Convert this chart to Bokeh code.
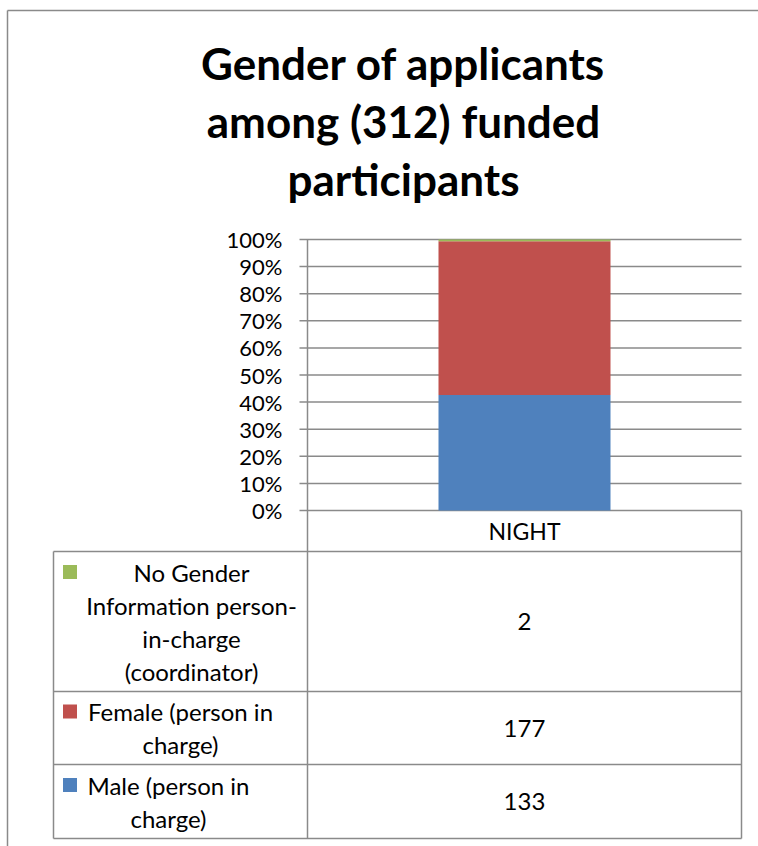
from bokeh.plotting import figure
from bokeh.models import ColumnDataSource, Range1d, LinearScale
from bokeh.core.properties import value
from bokeh.embed import file_html
from bokeh.resources import INLINE

# ---------------- data ----------------
TITLE_LINES = ["Gender of applicants", "among (312) funded", "participants"]
CATEGORIES = ["NIGHT"]
SERIES_KEYS = ["male", "female", "nogender"]
SERIES_NAMES = ["Male (person in\ncharge)",
                "Female (person in\ncharge)",
                "No Gender\nInformation person-\nin-charge\n(coordinator)"]
SERIES_COUNTS = [133, 177, 2]
SERIES_COLORS = ["#4F81BD", "#C0504D", "#9BBB59"]
Y_TICKS = [0.0, 0.1, 0.2, 0.3, 0.4, 0.5, 0.6, 0.7, 0.8, 0.9, 1.0]
Y_TICK_LABELS = ["0%", "10%", "20%", "30%", "40%", "50%", "60%", "70%",
                 "80%", "90%", "100%"]

# ---------------- layout constants (pixels) ----------------
W, H = 758, 846
X_L, X_R = 307, 741        # plot area left / right
Y_0, Y_1 = 510, 239        # pixel rows of 0% and 100%
GRAY = "#8a8a8a"
FONT = "Lato"

n_cat = len(CATEGORIES)
sx = (X_R - X_L) / n_cat
sy = Y_0 - Y_1

total = sum(SERIES_COUNTS)
xpos = [i + 0.5 for i in range(n_cat)]
data = {"x": xpos}
for k, c in zip(SERIES_KEYS, SERIES_COUNTS):
    data[k] = [c / total]
source = ColumnDataSource(data)

p = figure(width=W, height=H, output_backend="svg", toolbar_location=None,
           title=None, x_axis_location=None, y_axis_location=None, min_border=0,
           x_range=Range1d(-X_L / sx, (W - X_L) / sx),
           y_range=Range1d(-(H - Y_0) / sy, 1 + Y_1 / sy))
p.outline_line_color = None
p.background_fill_color = "white"
p.border_fill_color = "white"
p.grid.visible = False
p.extra_x_ranges = {"px": Range1d(0, W)}
p.extra_x_scales = {"px": LinearScale()}
p.extra_y_ranges = {"px": Range1d(H, 0)}
p.extra_y_scales = {"px": LinearScale()}

PX = dict(x_range_name="px", y_range_name="px")


def seg(x0, y0, x1, y1, **kw):
    p.segment(x0=x0, y0=y0, x1=x1, y1=y1, line_color=GRAY, line_width=1.5, **kw)


def txt(x, y, texts, size, align="center", baseline="middle", style="normal", **kw):
    p.text(x=x, y=y, text=texts, text_font=value(FONT), text_font_size=value(size),
           text_font_style=style, text_align=align, text_baseline=baseline,
           text_color="black", **kw)


# outer chart border (left + top)
seg([7, 7], [10, 10], [7, W], [H, 10], **PX)

# gridlines with tick marks (x in pixels, y in value units)
seg([X_L - 8] * len(Y_TICKS), Y_TICKS, [X_R] * len(Y_TICKS), Y_TICKS, x_range_name="px")
# value axis line
seg([X_L], [0], [X_L], [1], x_range_name="px")
# tick labels
txt([X_L - 25] * len(Y_TICKS), Y_TICKS, Y_TICK_LABELS, "22px", align="right",
    x_range_name="px")

# stacked bar
p.vbar_stack(SERIES_KEYS, x="x", width=172 / sx, color=SERIES_COLORS,
             line_color=None, source=source)

# category label row
txt(xpos, [530] * n_cat, CATEGORIES, "23px", y_range_name="px")

# data table grid
TBL_L = 53
row_edges = [551, 691, 764, 838]
seg([TBL_L] * len(row_edges), row_edges, [X_R] * len(row_edges), row_edges, **PX)
seg([TBL_L, X_L, X_R], [row_edges[0], Y_0, Y_0],
    [TBL_L, X_L, X_R], [row_edges[-1]] * 3, **PX)

# table rows: legend key + wrapped series name + count
text_centers = [191, 180, 168]
for r, idx in enumerate(reversed(range(len(SERIES_KEYS)))):
    top, bot = row_edges[r], row_edges[r + 1]
    mid = (top + bot) / 2
    lines = SERIES_NAMES[idx].split("\n")
    n = len(lines)
    ys = [mid + (j - (n - 1) / 2) * 33 for j in range(n)]
    txt([text_centers[r]] * n, ys, lines, "24px", **PX)
    p.rect(x=[69.5], y=[ys[0]], width=14, height=14, color=SERIES_COLORS[idx],
           line_color=None, **PX)
    txt(xpos, [mid], [str(SERIES_COUNTS[idx])], "24px", y_range_name="px")

# title
txt([403] * len(TITLE_LINES), [62 + 58 * i for i in range(len(TITLE_LINES))],
    TITLE_LINES, "44px", style="bold", **PX)

open("out.html", "w").write(file_html(p, INLINE))
